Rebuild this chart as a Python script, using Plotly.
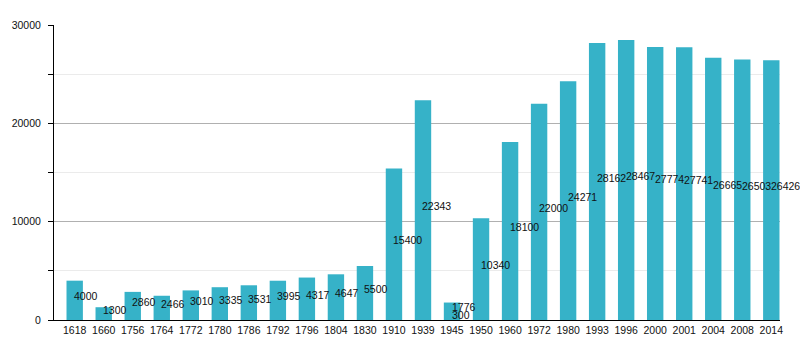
import plotly.graph_objects as go

years = ["1618", "1660", "1756", "1764", "1772", "1780", "1786", "1792", "1796", "1804",
         "1830", "1910", "1939", "1945", "1950", "1960", "1972", "1980", "1993", "1996",
         "2000", "2001", "2004", "2008", "2014"]
population = [4000, 1300, 2860, 2466, 3010, 3335, 3531, 3995, 4317, 4647,
              5500, 15400, 22343, 1776, 10340, 18100, 22000, 24271, 28162, 28467,
              27774, 27741, 26665, 26503, 26426]
extra_year = ["1945"]
extra_value = [300]

bar_color = "#36b2c8"
font_family = "Liberation Sans, Arial, sans-serif"

fig = go.Figure()
fig.add_trace(go.Bar(x=years, y=population, marker=dict(color=bar_color, line=dict(width=0)),
                     width=0.565, hoverinfo="x+y"))

annotations = []
pairs = list(zip(years, population)) + list(zip(extra_year, extra_value))
for yr, v in pairs:
    annotations.append(dict(x=years.index(yr), y=v / 2, xref="x", yref="y", text=str(v),
                            showarrow=False, xanchor="left", yanchor="middle",
                            xshift=-2.5, yshift=4,
                            font=dict(family=font_family, size=10.5, color="#111")))

n = len(years)
fig.update_layout(
    width=800, height=350,
    margin=dict(l=50.5, r=19.5, t=25, b=29.5),
    paper_bgcolor="white", plot_bgcolor="white",
    showlegend=False,
    annotations=annotations,
    font=dict(family=font_family, size=10.5, color="#111"),
    xaxis=dict(type="category", categoryorder="array", categoryarray=years,
               range=[-0.713, n - 1 + 0.30], showgrid=False, showline=True,
               linecolor="black", linewidth=1, ticks="", zeroline=False,
               tickfont=dict(family=font_family, size=10.5, color="#111")),
    yaxis=dict(range=[0, 30000], dtick=10000, tick0=0, tickformat="d",
               showgrid=True, gridcolor="#b0b0b0",
               gridwidth=1, showline=True, linecolor="black", linewidth=1,
               ticks="outside", ticklen=5, tickcolor="black", zeroline=False,
               ticklabelstandoff=5,
               tickfont=dict(family=font_family, size=10.5, color="#111")),
)
fig.update_yaxes(minor=dict(dtick=5000, showgrid=True, gridcolor="#ebebeb", ticks="outside",
                            ticklen=5, tickcolor="black"))

fig.write_html("out.html")
